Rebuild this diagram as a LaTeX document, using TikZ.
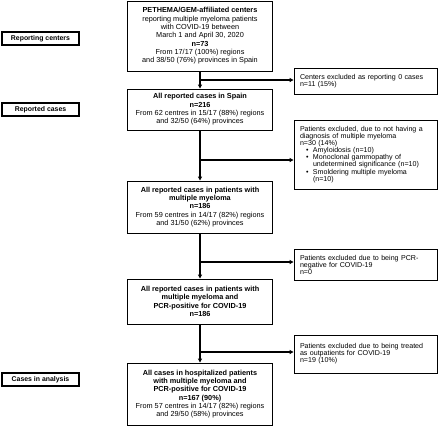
\documentclass[tikz,border=0pt]{standalone}
\usepackage{fontspec}
\setmainfont{Liberation Sans}
\usetikzlibrary{arrows.meta, positioning}

\newcommand{\blt}{\hspace*{6pt}\makebox[7pt][l]{\textbullet}}
\newcommand{\bltind}{\hspace*{13pt}}

\begin{document}
\begin{tikzpicture}[x=1pt,y=-1pt,
    mainbox/.style={draw,line width=0.9pt,minimum width=145pt,align=center,inner sep=2pt,font=\fontsize{7.3}{8.3}\selectfont},
    exclbox/.style={draw,line width=0.9pt,text width=131pt,align=left,inner sep=6pt,font=\fontsize{7.1}{7.1}\selectfont},
    stagebox/.style={draw,line width=1.2pt,minimum width=77pt,minimum height=13pt,inner sep=1pt,font=\fontsize{6.9}{7}\selectfont\bfseries},
    flow/.style={-{Triangle[length=4pt,width=4pt]},line width=1.1pt}]
    \useasboundingbox (0,0) rectangle (440,426);

    % Stages on the left
    \node[stagebox] (stcenters) at (40.5,38.5) {Reporting centers};
    \node[stagebox] (stcases) at (40.5,109.5) {Reported cases};
    \node[stagebox] (stanalysis) at (40.5,379.5) {Cases in analysis};

    % Main flow
    \node[mainbox,minimum height=70pt] (centers) at (200,36) {\textbf{PETHEMA/GEM-affiliated centers}\\reporting multiple myeloma patients\\with COVID-19 between\\March 1 and April 30, 2020\\\textbf{n=73}\\From 17/17 (100\%) regions\\and 38/50 (76\%) provinces in Spain};
    \node[mainbox,minimum height=41pt] (spain) at (200,109.5) {\textbf{All reported cases in Spain}\\\textbf{n=216}\\From 62 centres in 15/17 (88\%) regions\\and 32/50 (64\%) provinces};
    \node[mainbox,minimum height=52pt] (myeloma) at (200,207) {\textbf{All reported cases in patients with}\\\textbf{multiple myeloma}\\\textbf{n=186}\\From 59 centres in 14/17 (82\%) regions\\and 31/50 (62\%) provinces};
    \node[mainbox,minimum height=45pt] (pcr) at (200,301.5) {\textbf{All reported cases in patients with}\\\textbf{multiple myeloma and}\\\textbf{PCR-positive for COVID-19}\\\textbf{n=186}};
    \node[mainbox,minimum height=62pt] (analysis) at (200,394) {\textbf{All cases in hospitalized patients}\\\textbf{with multiple myeloma and}\\\textbf{PCR-positive for COVID-19}\\\textbf{n=167 (90\%)}\\From 57 centres in 14/17 (82\%) regions\\and 29/50 (58\%) provinces};

    % Exclusions
    \node[exclbox,minimum height=23pt] (exzero) at (365.5,81.5) {Centers excluded as reporting 0 cases\\n=11 (15\%)};
    \node[exclbox,minimum height=69pt] (exdiag) at (365.5,154.5) {Patients excluded, due to not having a\\diagnosis of multiple myeloma\\n=30 (14\%)\\\blt Amyloidosis (n=10)\\\blt Monoclonal gammopathy of\\\bltind undetermined significance (n=10)\\\blt Smoldering multiple myeloma\\\bltind (n=10)};
    \node[exclbox,minimum height=30pt] (exneg) at (365.5,265) {Patients excluded due to being PCR-\\negative for COVID-19\\n=0};
    \node[exclbox,minimum height=38pt] (exout) at (365.5,354) {Patients excluded due to being treated\\as outpatients for COVID-19\\n=19 (10\%)};

    % Junctions
    \coordinate (j1) at (200,80);
    \coordinate (j2) at (200,160);
    \coordinate (j3) at (200,262);
    \coordinate (j4) at (200,352);

    \draw[flow] (centers) -- (spain);
    \draw[flow] (spain) -- (myeloma);
    \draw[flow] (myeloma) -- (pcr);
    \draw[flow] (pcr) -- (analysis);

    \draw[flow] (j1) -- (j1 -| exzero.west);
    \draw[flow] (j2) -- (j2 -| exdiag.west);
    \draw[flow] (j3) -- (j3 -| exneg.west);
    \draw[flow] (j4) -- (j4 -| exout.west);
\end{tikzpicture}
\end{document}
